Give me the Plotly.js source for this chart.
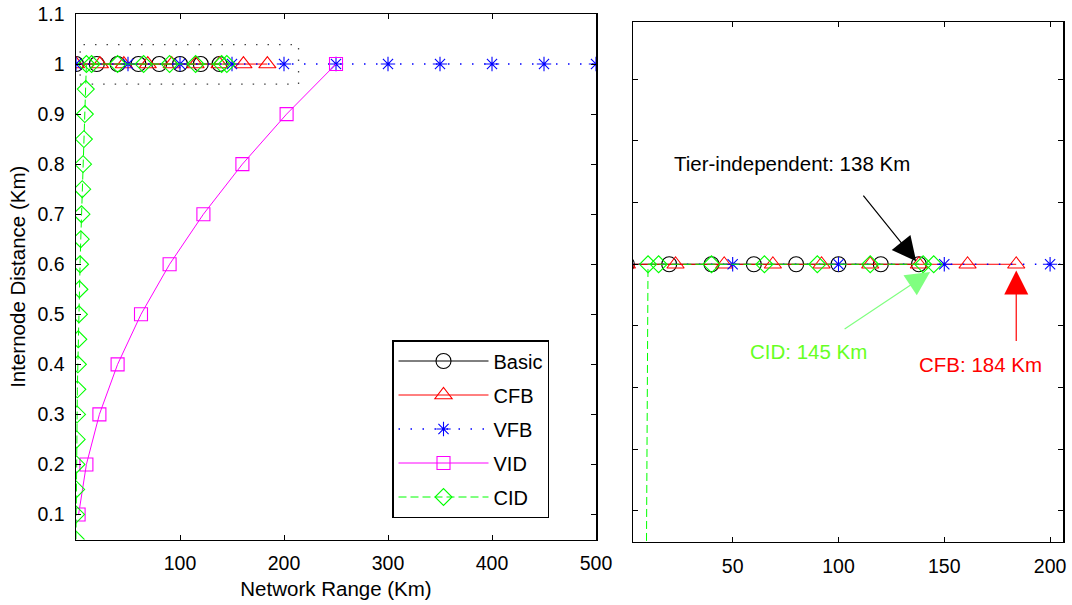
<!DOCTYPE html>
<html><head><meta charset="utf-8">
<script src="https://cdn.plot.ly/plotly-3.0.1.min.js"></script>
<style>html,body{margin:0;padding:0;background:#fff}#chart{width:1072px;height:605px}</style>
</head><body><div id="chart"></div>
<script>
// ---- data ----
const seriesNames = ['Basic', 'CFB', 'VFB', 'VID', 'CID'];
const basicX = [0, 20, 40, 60, 80, 100, 120, 138];
const basicY = [1, 1, 1, 1, 1, 1, 1, 1];
const cfbX = [0, 23, 46, 69, 92, 115, 138, 161, 184];
const cfbY = [1, 1, 1, 1, 1, 1, 1, 1, 1];
const vfbX = [0, 50, 100, 150, 200, 250, 300, 350, 400, 450, 500];
const vfbY = [1, 1, 1, 1, 1, 1, 1, 1, 1, 1, 1];
const vidX = [2.5, 10, 22.5, 40, 62.5, 90, 122.5, 160, 202.5, 250];
const vidY = [0.1, 0.2, 0.3, 0.4, 0.5, 0.6, 0.7, 0.8, 0.9, 1.0];
const cidX = [0, 0.1, 0.2, 0.5, 0.7, 1.0, 1.3, 1.8, 2.2, 2.8, 3.3, 3.9, 4.6, 5.3, 6.0, 6.8, 7.6, 8.5, 9.4,
              10, 15, 40, 65, 90, 115, 140, 145];
const cidY = [0.05, 0.1, 0.15, 0.2, 0.25, 0.3, 0.35, 0.4, 0.45, 0.5, 0.55, 0.6, 0.65, 0.7, 0.75, 0.8, 0.85, 0.9, 0.95,
              1, 1, 1, 1, 1, 1, 1, 1];
const leftXTicks = [100, 200, 300, 400, 500];
const leftYTicks = [0.1, 0.2, 0.3, 0.4, 0.5, 0.6, 0.7, 0.8, 0.9, 1.0, 1.1];
const leftYTickText = ['0.1', '0.2', '0.3', '0.4', '0.5', '0.6', '0.7', '0.8', '0.9', '1', '1.1'];
const rightXTicks = [50, 100, 150, 200];
const rightYTicks = [0.96, 0.97, 0.98, 0.99, 1.0, 1.01, 1.02, 1.03];
const notes = [
  {text: 'Tier-independent: 138 Km', x: 78, y: 1.0163, tipX: 136.7, tipY: 1.0005},
  {text: 'CID: 145 Km', x: 86, y: 0.9858, tipX: 143.3, tipY: 0.99875},
  {text: 'CFB: 184 Km', x: 167, y: 0.9837, tipX: 184, tipY: 0.999}
];

// ---- styles ----
const styles = {
  Basic: {color: '#000000', dash: 'solid', symbol: 'circle-open', size: 15},
  CFB:   {color: '#ff0000', dash: 'solid', symbol: 'triangle-up-open', size: 15},
  VFB:   {color: '#0000ff', dash: '1.5px,10.5px', symbol: 'asterisk-open', size: 12, lw: 1.5},
  VID:   {color: '#ff00ff', dash: 'solid', symbol: 'square-open', size: 13},
  CID:   {color: '#00ff00', dash: '8px,4px', symbol: 'diamond-open', size: 13}
};
const seriesData = {
  Basic: [basicX, basicY], CFB: [cfbX, cfbY], VFB: [vfbX, vfbY], VID: [vidX, vidY], CID: [cidX, cidY]
};

const traces = [];
[['x', 'y', true], ['x2', 'y2', false]].forEach(([xa, ya, leg]) => {
  seriesNames.forEach(name => {
    const s = styles[name];
    traces.push({
      type: 'scatter', mode: 'lines+markers', name: name,
      x: seriesData[name][0], y: seriesData[name][1],
      xaxis: xa, yaxis: ya, showlegend: leg, legendgroup: name,
      cliponaxis: true,
      line: {color: s.color, width: s.lw || 1, dash: s.dash},
      marker: {symbol: s.symbol, size: s.size, color: s.color, line: {color: s.color, width: 1.1}}
    });
  });
});

const fontFam = '"Liberation Sans", Arial, sans-serif';
const M = {l: 70, r: 5, t: 10, b: 60};
const PW = 1072 - M.l - M.r, PH = 605 - M.t - M.b;
const px2x = p => (p - M.l) / PW;
const px2y = p => (605 - M.b - p) / PH;

const axCommon = {
  showline: true, linecolor: '#000', linewidth: 1.5, mirror: 'ticks',
  ticks: 'inside', ticklen: 5, tickcolor: '#000', tickwidth: 1,
  showgrid: false, zeroline: false, tickmode: 'array',
  tickfont: {size: 19.5}
};

const annotations = [];
const arrowColors = ['#000000', '#80ff80', '#ff0000'];
const textColors = ['#000000', '#66ff22', '#ff0000'];
notes.forEach((n, i) => {
  annotations.push({xref: 'x2', yref: 'y2', x: n.x, y: n.y, text: n.text, showarrow: false,
    font: {size: 20.5, color: textColors[i], family: fontFam}});
});
// arrows (tails in pixel offsets from the tips)
const tails = [[-54, -67], [-87, 58], [0, 72]];
notes.forEach((n, i) => {
  annotations.push({xref: 'x2', yref: 'y2', x: n.tipX, y: n.tipY, text: '', showarrow: true,
    ax: tails[i][0], ay: tails[i][1], arrowhead: 2, arrowsize: 4, arrowwidth: 1.2,
    arrowcolor: arrowColors[i], standoff: 0});
});

const layout = {
  width: 1072, height: 605, margin: M,
  paper_bgcolor: '#fff', plot_bgcolor: '#fff',
  font: {family: fontFam, size: 20, color: '#000'},
  showlegend: true,
  legend: {x: px2x(392), y: px2y(340), xanchor: 'left', yanchor: 'top',
    bgcolor: '#fff', bordercolor: '#000', borderwidth: 1.5,
    itemwidth: 90, tracegroupgap: 5, traceorder: 'grouped', font: {size: 20}},
  xaxis: Object.assign({}, axCommon, {
    domain: [px2x(76), px2x(596)], range: [0, 500], anchor: 'y',
    tickvals: leftXTicks, ticklabelstandoff: 6,
    title: {text: 'Network Range (Km)', font: {size: 20.5}, standoff: 8}
  }),
  yaxis: Object.assign({}, axCommon, {
    domain: [px2y(539.5), px2y(14)], range: [0.05, 1.1], anchor: 'x',
    tickvals: leftYTicks, ticktext: leftYTickText, ticklabelstandoff: 6,
    title: {text: 'Internode Distance (Km)', font: {size: 20.5}}
  }),
  xaxis2: Object.assign({}, axCommon, {
    domain: [px2x(633), px2x(1063)], range: [2.9, 206.1], anchor: 'y2',
    tickvals: rightXTicks, ticklabelstandoff: 6
  }),
  yaxis2: Object.assign({}, axCommon, {
    domain: [px2y(541.7), px2y(22)], range: [0.955, 1.0393], anchor: 'x2',
    tickvals: rightYTicks, showticklabels: false
  }),
  shapes: [{type: 'rect', xref: 'x', yref: 'y', x0: 4, x1: 214, y0: 0.96, y1: 1.039,
    line: {color: '#444', width: 1.3, dash: '1.5px,10px'}, fillcolor: 'rgba(0,0,0,0)', layer: 'below'}],
  annotations: annotations
};

Plotly.newPlot('chart', traces, layout, {displayModeBar: false, staticPlot: true});
</script>
</body></html>
